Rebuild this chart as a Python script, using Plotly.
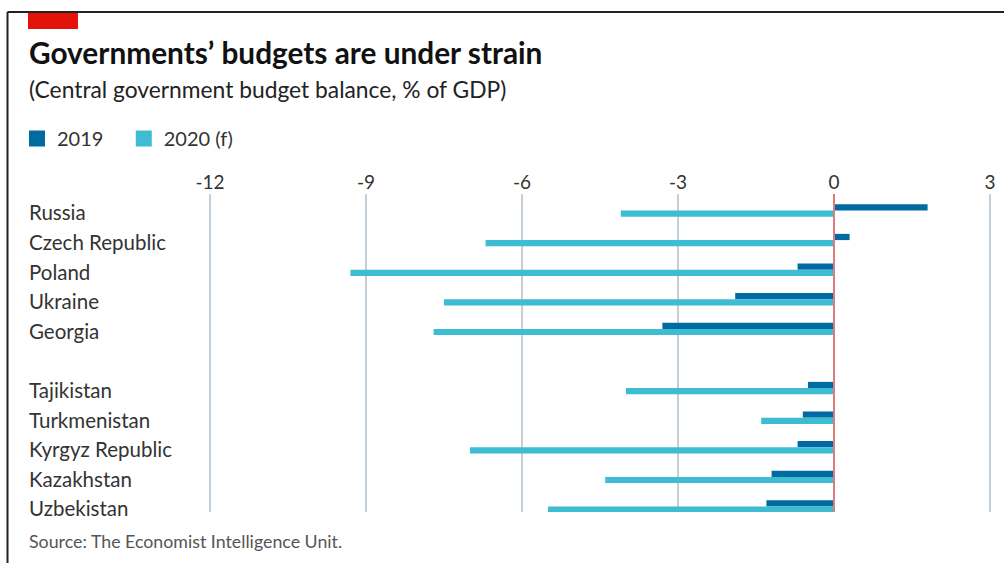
import plotly.graph_objects as go

# ---- data ----
group_a = ["Russia", "Czech Republic", "Poland", "Ukraine", "Georgia"]
group_b = ["Tajikistan", "Turkmenistan", "Kyrgyz Republic", "Kazakhstan", "Uzbekistan"]
vals_2019_a = [1.8, 0.3, -0.7, -1.9, -3.3]
vals_2020_a = [-4.1, -6.7, -9.3, -7.5, -7.7]
vals_2019_b = [-0.5, -0.6, -0.7, -1.2, -1.3]
vals_2020_b = [-4.0, -1.4, -7.0, -4.4, -5.5]
tick_values = [-12, -9, -6, -3, 0, 3]
series_names = ["2019", "2020 (f)"]

countries = group_a + group_b
vals_2019 = vals_2019_a + vals_2019_b
vals_2020 = vals_2020_a + vals_2020_b
# row index with one blank row between the two groups
rows = list(range(len(group_a))) + [len(group_a) + 1 + i for i in range(len(group_b))]

W, H = 1004, 563
L, R, T, B = 184, 1, 194, 51
PW, PH = W - L - R, H - T - B


def px_x(px):
    return (px - L) / PW


def px_y(py):
    return (H - B - py) / PH


FONT = "Lato"
DARK_BLUE = "#006BA2"
LIGHT_BLUE = "#3EBCD2"
colors = [DARK_BLUE, LIGHT_BLUE]

fig = go.Figure()
for vals, name, col in zip([vals_2019, vals_2020], series_names, colors):
    fig.add_trace(go.Bar(x=vals, y=rows, orientation="h", name=name, showlegend=False,
                         marker=dict(color=col, line=dict(width=0))))
# legend entries (square keys); trailing no-break spaces widen the gap between entries
legend_pad = ["\u00a0\u00a0\u00a0", ""]
for name, col, pad in zip(series_names, colors, legend_pad):
    fig.add_trace(go.Scatter(x=[None], y=[None], mode="markers", name=name + pad,
                             marker=dict(symbol="square", size=16, color=col)))

annotations = []
for name, r in zip(countries, rows):
    annotations.append(dict(x=px_x(27), y=r, xref="paper", yref="y", text=name,
                            showarrow=False, xanchor="left", yanchor="middle", yshift=-2,
                            font=dict(family=FONT, size=20.5, color="#333333")))
annotations.append(dict(x=px_x(27), y=px_y(52), xref="paper", yref="paper",
                        text="<b>Governments’ budgets are under strain</b>", showarrow=False,
                        xanchor="left", yanchor="middle",
                        font=dict(family=FONT, size=29.8, color="#111111")))
annotations.append(dict(x=px_x(27), y=px_y(89), xref="paper", yref="paper",
                        text="(Central government budget balance, % of GDP)", showarrow=False,
                        xanchor="left", yanchor="middle",
                        font=dict(family=FONT, size=22.8, color="#222222")))
annotations.append(dict(x=px_x(27), y=px_y(541), xref="paper", yref="paper",
                        text="Source: The Economist Intelligence Unit.", showarrow=False,
                        xanchor="left", yanchor="middle",
                        font=dict(family=FONT, size=17.8, color="#555555")))

shapes = [
    dict(type="line", xref="paper", yref="paper", x0=px_x(7.5), x1=px_x(1004),
         y0=px_y(12), y1=px_y(12), line=dict(color="#222222", width=2)),
    dict(type="line", xref="paper", yref="paper", x0=px_x(7.5), x1=px_x(7.5),
         y0=px_y(12), y1=px_y(563), line=dict(color="#222222", width=2)),
    dict(type="rect", xref="paper", yref="paper", x0=px_x(28), x1=px_x(78),
         y0=px_y(13), y1=px_y(29), fillcolor="#E3120B", line=dict(width=0)),
    dict(type="line", xref="x", yref="paper", x0=0, x1=0, y0=0, y1=1,
         line=dict(color="#E07B7B", width=2), layer="above"),
]

fig.update_layout(
    width=W, height=H,
    margin=dict(l=L, r=R, t=T, b=B, pad=0),
    paper_bgcolor="white", plot_bgcolor="white",
    barmode="group", bargap=0.58, bargroupgap=0,
    font=dict(family=FONT, color="#333333"),
    showlegend=True,
    legend=dict(orientation="h", xref="container", yref="container",
                x=17 / W, y=1 - 119 / H, xanchor="left", yanchor="top",
                font=dict(family=FONT, size=20, color="#333333"),
                traceorder="normal", bgcolor="rgba(0,0,0,0)"),
    xaxis=dict(side="top", range=[(L - 834) / 52, (W - R - 834) / 52],
               tickvals=tick_values, ticktext=[str(v) for v in tick_values],
               showgrid=True, gridcolor="#C3CFD8", gridwidth=2,
               zeroline=False, showline=False, ticks="",
               tickfont=dict(family=FONT, size=19, color="#333333")),
    yaxis=dict(range=[rows[-1] + 0.186, -0.557], showticklabels=False,
               showgrid=False, zeroline=False, showline=False),
    annotations=annotations,
    shapes=shapes,
)

fig.write_html("out.html", post_script="document.body.style.margin='0';",
               config={"displayModeBar": False})
